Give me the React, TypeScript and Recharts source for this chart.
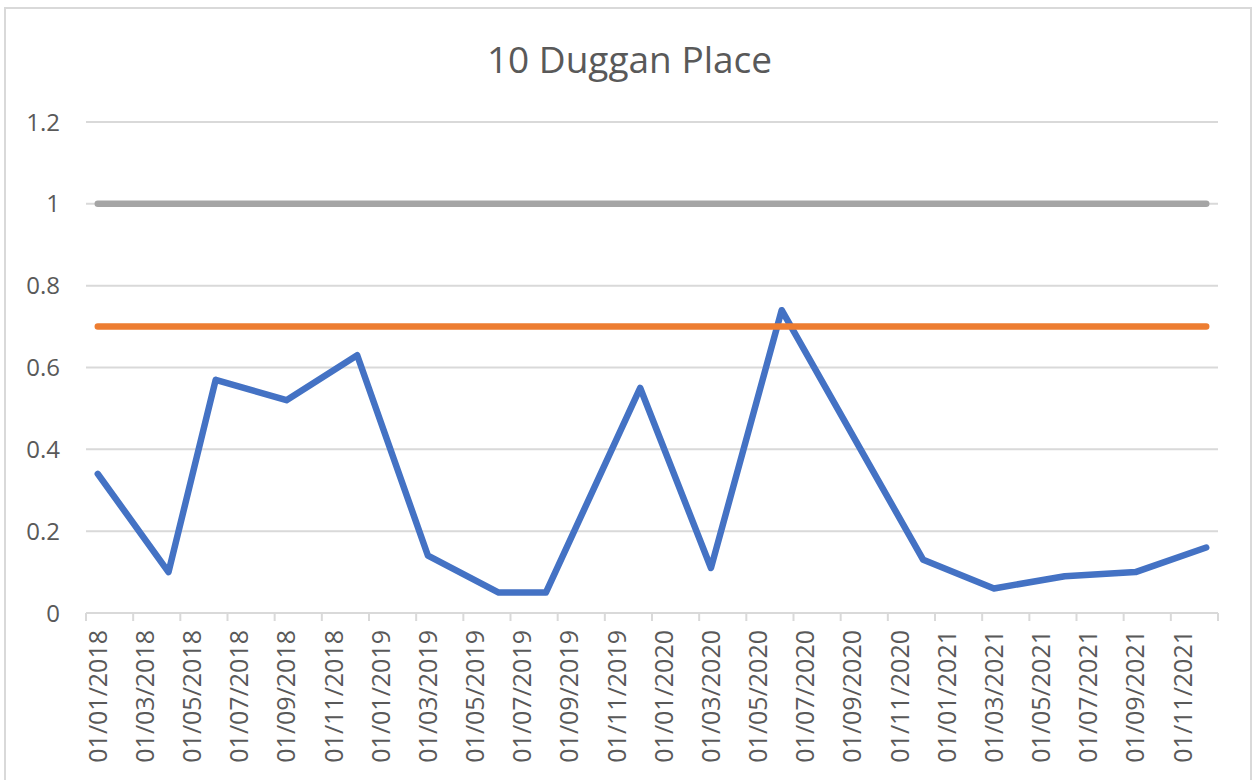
import React from "react";
import {
  LineChart,
  Line,
  XAxis,
  YAxis,
  CartesianGrid,
} from "recharts";

// sample months (yyyy-mm) and readings
const sampleMonths = [
  "2018-01", "2018-04", "2018-06", "2018-09", "2018-12",
  "2019-03", "2019-06", "2019-08", "2019-12",
  "2020-03", "2020-06", "2020-12",
  "2021-03", "2021-06", "2021-09", "2021-12",
];
const actualValues = [
  0.34, 0.1, 0.57, 0.52, 0.63, 0.14, 0.05, 0.05, 0.55, 0.11, 0.74, 0.13, 0.06,
  0.09, 0.1, 0.16,
];
const targetValues = sampleMonths.map(() => 0.7);
const maxValues = sampleMonths.map(() => 1);

const tickLabels = [
  "01/01/2018", "01/03/2018", "01/05/2018", "01/07/2018", "01/09/2018", "01/11/2018",
  "01/01/2019", "01/03/2019", "01/05/2019", "01/07/2019", "01/09/2019", "01/11/2019",
  "01/01/2020", "01/03/2020", "01/05/2020", "01/07/2020", "01/09/2020", "01/11/2020",
  "01/01/2021", "01/03/2021", "01/05/2021", "01/07/2021", "01/09/2021", "01/11/2021",
];
const yTicks = [0, 0.2, 0.4, 0.6, 0.8, 1, 1.2];

const START_YEAR = 2018;
const TOTAL_MONTHS = tickLabels.length * 2;

// month slot index, plotted in the middle of its month
const monthPos = (ym: string) => {
  const [y, m] = ym.split("-").map(Number);
  return (y - START_YEAR) * 12 + (m - 1) + 0.5;
};

const data = sampleMonths.map((ym, i) => ({
  m: monthPos(ym),
  actual: actualValues[i],
  target: targetValues[i],
  max: maxValues[i],
}));

const xTicks = Array.from({ length: tickLabels.length + 1 }, (_, i) => i * 2);

const W = 1254;
const H = 780;
const MARGIN = { top: 122, right: 36, bottom: 7, left: 26 };
const Y_AXIS_W = 60;
const X_AXIS_H = 160;
const PLOT_W = W - MARGIN.left - Y_AXIS_W - MARGIN.right;
const HALF_MONTH = PLOT_W / TOTAL_MONTHS / 2;

const FONT = "'Open Sans', sans-serif";
const TEXT = "#595959";
const GRID = "#d9d9d9";

function DateTick(props: any) {
  const { x, y, payload } = props;
  const label = tickLabels[payload.value / 2];
  const lx = x + HALF_MONTH;
  const ly = y + 17;
  return (
    <g>
      <line x1={x} x2={x} y1={y} y2={y + 8} stroke={GRID} strokeWidth={2} />
      {label && (
        <text
          x={lx}
          y={ly}
          dy="0.36em"
          transform={`rotate(-90 ${lx} ${ly})`}
          textAnchor="end"
          fill={TEXT}
          fontSize={25}
          fontFamily={FONT}
        >
          {label}
        </text>
      )}
    </g>
  );
}

export default function App() {
  return (
    <div
      style={{
        position: "absolute",
        left: 0,
        top: 0,
        width: W,
        height: H,
        overflow: "hidden",
        background: "#fff",
      }}
    >
      <div
        style={{
          position: "absolute",
          left: 4,
          top: 7,
          width: 1244,
          height: 800,
          border: `2px solid ${GRID}`,
        }}
      />
      <div
        style={{
          position: "absolute",
          left: 0,
          width: 1259,
          top: 40,
          textAlign: "center",
          fontFamily: FONT,
          fontSize: 37,
          lineHeight: "37px",
          color: TEXT,
        }}
      >
        10 Duggan Place
      </div>
      <div style={{ position: "absolute", left: 0, top: 0 }}>
        <LineChart width={W} height={H} data={data} margin={MARGIN}>
          <CartesianGrid vertical={false} stroke={GRID} strokeWidth={2} />
          <XAxis
            dataKey="m"
            type="number"
            domain={[0, TOTAL_MONTHS]}
            ticks={xTicks}
            interval={0}
            height={X_AXIS_H}
            tickSize={0}
            tickMargin={0}
            tickLine={false}
            axisLine={{ stroke: GRID, strokeWidth: 2 }}
            tick={<DateTick />}
          />
          <YAxis
            domain={[0, 1.2]}
            ticks={yTicks}
            width={Y_AXIS_W}
            axisLine={false}
            tickLine={false}
            tickMargin={20}
            tick={{ fill: TEXT, fontSize: 24, fontFamily: FONT }}
          />
          <Line
            dataKey="actual"
            stroke="#4472C4"
            strokeWidth={6.5}
            strokeLinecap="round"
            strokeLinejoin="round"
            dot={false}
            activeDot={false}
            isAnimationActive={false}
          />
          <Line
            dataKey="target"
            stroke="#ED7D31"
            strokeWidth={6.5}
            strokeLinecap="round"
            dot={false}
            activeDot={false}
            isAnimationActive={false}
          />
          <Line
            dataKey="max"
            stroke="#A5A5A5"
            strokeWidth={6.5}
            strokeLinecap="round"
            dot={false}
            activeDot={false}
            isAnimationActive={false}
          />
        </LineChart>
      </div>
    </div>
  );
}
